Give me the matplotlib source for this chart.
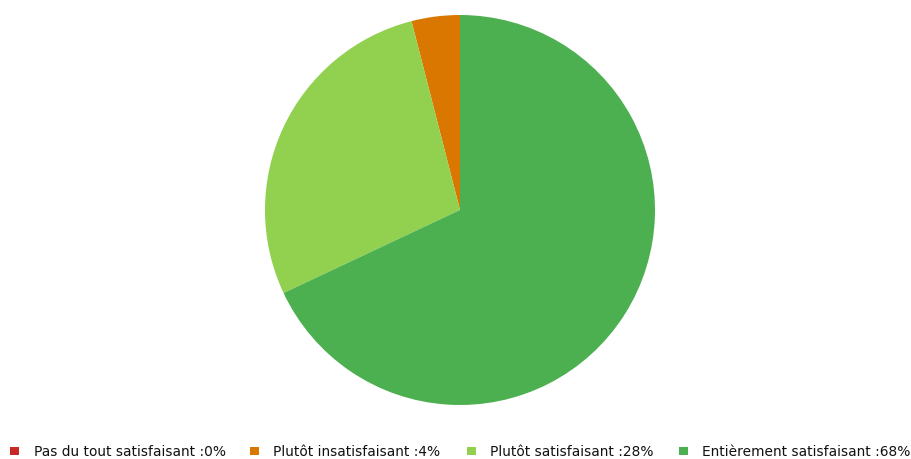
import matplotlib
matplotlib.use("Agg")
import matplotlib.pyplot as plt
from matplotlib.patches import Rectangle

categories = ["Pas du tout satisfaisant", "Plutôt insatisfaisant", "Plutôt satisfaisant", "Entièrement satisfaisant"]
values = [0, 4, 28, 68]
colors = ["#c62828", "#d97700", "#92d050", "#4caf50"]

fig = plt.figure(figsize=(9.11, 4.59), dpi=100)
ax = fig.add_axes([265/911, 54/459, 390/911, 390/459])
ax.pie(values, colors=colors, startangle=90, counterclock=True, radius=1,
       wedgeprops=dict(linewidth=0))
ax.set_xlim(-1, 1)
ax.set_ylim(-1, 1)
ax.set_aspect("equal")
ax.axis("off")

marker_x = [10, 250, 467, 679]
text_x = [34, 273, 490, 702]
ypix = 451
for cat, v, c, mx, tx in zip(categories, values, colors, marker_x, text_x):
    fig.patches.append(Rectangle((mx/911, (459-ypix-4)/459), 9/911, 8/459,
                                 transform=fig.transFigure, facecolor=c,
                                 edgecolor="none"))
    fig.text(tx/911, (459-ypix)/459, f"{cat} :{v}%", fontsize=9.9,
             va="center_baseline", ha="left", color="#111111", family="DejaVu Sans")

fig.savefig("out.png", dpi=100)
